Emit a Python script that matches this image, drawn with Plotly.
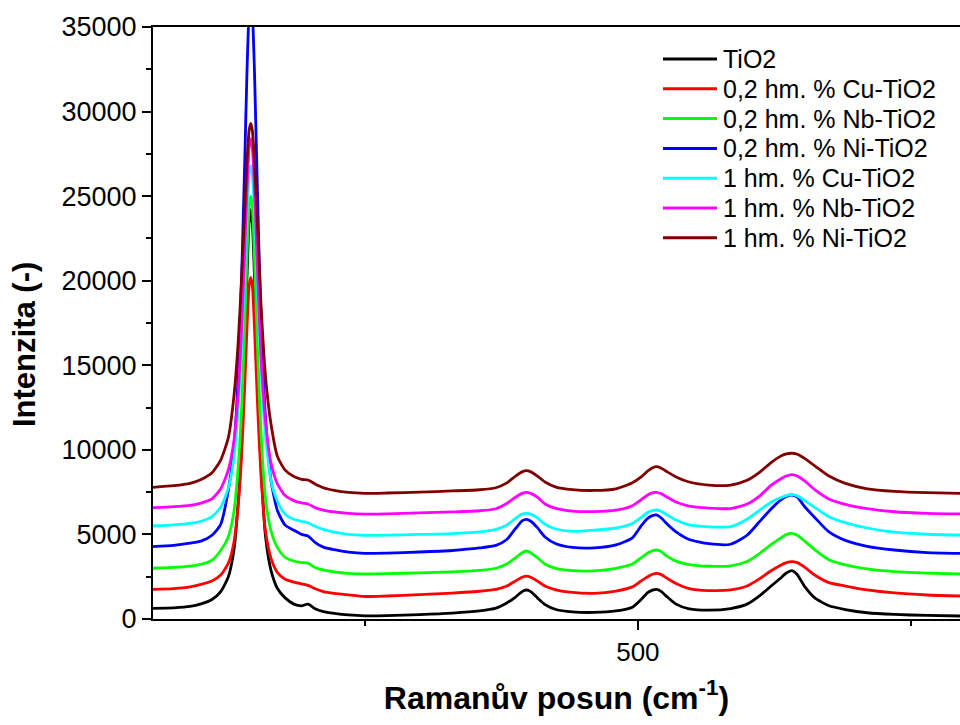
import plotly.graph_objects as go

# Raman shift grid (cm^-1)
shift = [56, 75, 90, 100, 110, 118, 125, 130, 134, 137, 140, 142, 144, 145.5, 147, 149,
         152, 155, 159, 164, 170, 177, 185, 192, 198, 204, 212, 222, 235, 250, 270, 300,
         330, 355, 370, 380, 388, 394, 398, 402, 408, 415, 425, 440, 460, 480, 495, 503,
         509, 514, 517, 521, 527, 535, 547, 565, 585, 600, 612, 622, 630, 636, 641, 646,
         653, 662, 675, 690, 710, 735, 765, 795]

tio2 = [630, 660, 740, 890, 1150, 1620, 2500, 4030, 6860, 10400, 15850, 20100, 23440, 24200, 23400, 20100,
        13900, 8950, 4900, 2890, 1800, 1250, 880, 780, 880, 620, 430, 330, 240, 190, 200, 260,
        350, 480, 640, 950, 1300, 1620, 1715, 1620, 1250, 850, 560, 420, 390, 480, 700, 1150,
        1560, 1720, 1755, 1650, 1300, 880, 600, 520, 620, 880, 1400, 1950, 2380, 2720, 2855, 2620,
        1900, 1250, 780, 560, 370, 270, 210, 177]

cu02 = [1755, 1800, 1900, 2050, 2250, 2600, 3300, 4500, 6720, 9500, 13780, 17100, 19700, 20200, 19700, 17100,
        12270, 8380, 5200, 3600, 2740, 2350, 2180, 2080, 1990, 1800, 1620, 1510, 1420, 1330, 1360, 1440,
        1530, 1640, 1750, 1950, 2250, 2470, 2540, 2470, 2250, 1950, 1720, 1570, 1520, 1650, 1900, 2250,
        2500, 2660, 2700, 2640, 2400, 2100, 1800, 1680, 1720, 1950, 2400, 2850, 3150, 3330, 3390, 3330,
        3050, 2600, 2150, 1950, 1720, 1540, 1420, 1360]

nb02 = [3000, 3050, 3130, 3230, 3480, 4050, 4870, 6300, 8940, 12240, 17300, 21260, 24340, 25000, 24340, 21260,
        15490, 10870, 7130, 5230, 4220, 3650, 3430, 3340, 3300, 3060, 2900, 2790, 2700, 2660, 2680, 2730,
        2790, 2880, 3000, 3250, 3620, 3920, 4020, 3920, 3620, 3250, 2990, 2860, 2850, 3000, 3250, 3620,
        3900, 4050, 4080, 4000, 3700, 3420, 3220, 3120, 3140, 3400, 3900, 4400, 4750, 5000, 5065, 4950,
        4600, 4100, 3500, 3200, 2960, 2800, 2710, 2660]

ni02 = [4275, 4350, 4480, 4600, 4950, 5600, 7630, 10100, 14330, 19850, 27000, 32200, 35900, 36800, 35900, 32200,
        24350, 17500, 11950, 8200, 6400, 5550, 5250, 5000, 4910, 4550, 4250, 4100, 3960, 3885, 3900, 3960,
        4050, 4200, 4350, 4700, 5350, 5800, 5895, 5780, 5400, 4850, 4450, 4230, 4200, 4380, 4800, 5500,
        5950, 6130, 6150, 6000, 5600, 5150, 4700, 4450, 4420, 4950, 5800, 6500, 7000, 7250, 7330, 7200,
        6620, 6000, 5150, 4650, 4300, 4080, 3930, 3885]

cu1 = [5500, 5560, 5650, 5780, 6050, 6600, 7750, 9470, 12460, 16100, 20600, 24000, 26270, 26800, 26270, 24000,
       19050, 14760, 10900, 8190, 6950, 6200, 5900, 5780, 5690, 5500, 5300, 5130, 5000, 4950, 4960, 5000,
       5050, 5150, 5300, 5550, 5950, 6200, 6250, 6200, 5980, 5600, 5320, 5180, 5250, 5380, 5650, 6000,
       6300, 6420, 6445, 6380, 6150, 5850, 5560, 5450, 5460, 5900, 6450, 6900, 7150, 7300, 7350, 7280,
       7000, 6600, 6050, 5700, 5380, 5130, 5010, 4965]

nb1 = [6580, 6640, 6720, 6850, 7100, 7700, 8820, 10480, 13320, 17040, 21850, 25340, 27850, 28400, 27850, 25340,
       20050, 15460, 11700, 9230, 7980, 7300, 7000, 6860, 6800, 6600, 6440, 6330, 6240, 6200, 6220, 6270,
       6330, 6400, 6520, 6830, 7200, 7430, 7490, 7430, 7200, 6800, 6540, 6380, 6350, 6430, 6700, 7050,
       7330, 7470, 7490, 7420, 7200, 6920, 6680, 6560, 6530, 6800, 7300, 7900, 8250, 8450, 8540, 8450,
       8150, 7650, 7100, 6780, 6520, 6340, 6250, 6210]

ni1 = [7785, 7880, 8020, 8250, 8650, 9400, 10720, 13100, 16340, 20010, 24120, 26920, 28870, 29300, 28870, 26920,
       22770, 18450, 14350, 11540, 9600, 8800, 8420, 8260, 8220, 8000, 7760, 7600, 7480, 7430, 7450, 7500,
       7570, 7640, 7760, 8050, 8450, 8700, 8770, 8700, 8450, 8100, 7800, 7650, 7600, 7700, 8050, 8400,
       8750, 8960, 9005, 8930, 8700, 8400, 8100, 7920, 7920, 8200, 8700, 9250, 9600, 9760, 9800, 9740,
       9480, 9050, 8450, 8020, 7700, 7550, 7470, 7430]

names = ["TiO2", "0,2 hm. % Cu-TiO2", "0,2 hm. % Nb-TiO2", "0,2 hm. % Ni-TiO2",
         "1 hm. % Cu-TiO2", "1 hm. % Nb-TiO2", "1 hm. % Ni-TiO2"]
series = [tio2, cu02, nb02, ni02, cu1, nb1, ni1]
colors = ["#000000", "#FF0000", "#00FF00", "#0000FF", "#00FFFF", "#FF00FF", "#800000"]

FONT = "Liberation Sans, Arial, sans-serif"
W, H = 960, 725
L, R, T, B = 153, 0, 27, 106
PW, PH = W - L - R, H - T - B


def px_x(px):
    return (px - L) / PW


def px_y(py):
    return (H - B - py) / PH


fig = go.Figure()
for name, ys, col in zip(names, series, colors):
    fig.add_trace(go.Scatter(
        x=shift, y=ys, name=name, mode="lines", showlegend=False,
        line=dict(color=col, width=2.8, shape="spline", smoothing=0.6),
    ))

# Legend: sample line plus label per series, laid out in pixel rows
shapes, annotations = [], []
row0, row_step = 59.0, 29.8
for i, (name, col) in enumerate(zip(names, colors)):
    yy = px_y(row0 + i * row_step)
    shapes.append(dict(type="line", xref="paper", yref="paper",
                       x0=px_x(663), x1=px_x(717), y0=yy, y1=yy,
                       line=dict(color=col, width=3)))
    annotations.append(dict(xref="paper", yref="paper", x=px_x(721), y=yy,
                            xanchor="left", yanchor="middle", showarrow=False,
                            text=name, font=dict(family=FONT, size=25, color="black")))

# Vertical axis title
annotations.append(dict(xref="paper", yref="paper", x=px_x(24), y=px_y(345),
                        xanchor="center", yanchor="middle", showarrow=False,
                        textangle=-90, text="<b>Intenzita (-)</b>",
                        font=dict(family=FONT, size=31, color="black")))

fig.update_layout(
    width=W, height=H,
    margin=dict(l=L, r=R, t=T, b=B),
    paper_bgcolor="white", plot_bgcolor="white",
    font=dict(family=FONT, color="black", size=25),
    showlegend=False,
    shapes=shapes, annotations=annotations,
)

fig.update_xaxes(
    range=[56, 795], showgrid=False, zeroline=False,
    showline=True, linecolor="black", linewidth=2, mirror=True,
    ticks="outside", ticklen=9, tickwidth=2, tickcolor="black",
    tickmode="linear", tick0=0, dtick=500,
    tickfont=dict(family=FONT, size=26, color="black"),
    minor=dict(ticks="outside", ticklen=5, tickwidth=2, tickcolor="black",
               tickmode="linear", tick0=0, dtick=250, showgrid=False),
    title=dict(text="<b>Ramanův posun (cm<sup>-1</sup>)</b>", standoff=20,
               font=dict(family=FONT, size=32, color="black")),
)

fig.update_yaxes(
    range=[0, 35000], showgrid=False, zeroline=False,
    showline=True, linecolor="black", linewidth=2, mirror=False,
    ticks="outside", ticklen=9, tickwidth=2, tickcolor="black",
    tickmode="linear", tick0=0, dtick=5000, tickformat="d",
    tickfont=dict(family=FONT, size=27, color="black"),
    minor=dict(ticks="outside", ticklen=5, tickwidth=2, tickcolor="black",
               tickmode="linear", tick0=0, dtick=2500, showgrid=False),
)

fig.write_html("out.html")
